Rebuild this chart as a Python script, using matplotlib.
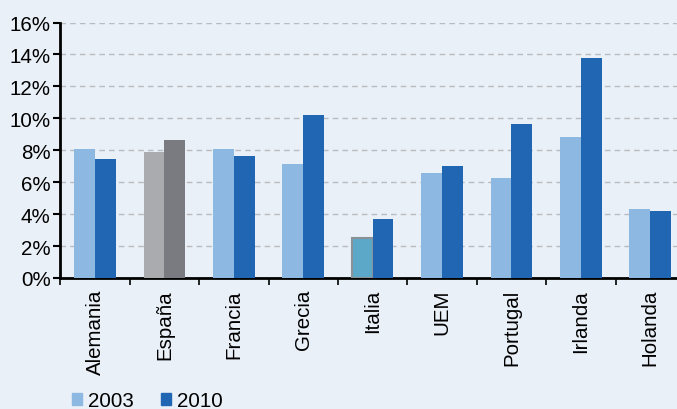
import matplotlib
matplotlib.use("Agg")
import matplotlib.pyplot as plt
import numpy as np
from matplotlib.patches import Patch

categories = ["Alemania", "España", "Francia", "Grecia", "Italia", "UEM", "Portugal", "Irlanda", "Holanda"]
v2003 = [8.08, 7.89, 8.08, 7.14, 2.49, 6.58, 6.26, 8.83, 4.32]
v2010 = [7.45, 8.64, 7.64, 10.21, 3.69, 7.01, 9.64, 13.78, 4.20]
yticks = [0, 2, 4, 6, 8, 10, 12, 14, 16]
series_labels = ["2003", "2010"]

plt.rcParams['font.family'] = ['Liberation Sans', 'DejaVu Sans']
bg = "#EAF0F7"
c03 = "#8DB8E2"
c10 = "#2166B3"

fig = plt.figure(figsize=(6.77, 4.10), dpi=100, facecolor=bg)
ax = fig.add_axes([60.3/677, 1-279/410, (685-60.3)/677, (279-23.5)/410], facecolor=bg)

x = np.arange(len(categories))
w = 0.30
cols03 = [c03]*len(categories)
cols10 = [c10]*len(categories)
edge03 = ["none"]*len(categories)
cols03[1] = "#A9ABAE"; cols10[1] = "#7A7B80"
cols03[4] = "#5BA8C8"; edge03[4] = "#8A9299"
for i in range(len(categories)):
    ax.bar(x[i]-w/2, v2003[i], w, color=cols03[i], edgecolor=edge03[i],
           linewidth=1.5 if edge03[i] != "none" else 0, zorder=3)
    ax.bar(x[i]+w/2, v2010[i], w, color=cols10[i], linewidth=0, zorder=3)

ax.set_xlim(-0.5, len(categories)-0.5)
ax.set_ylim(0, 16)
ax.set_yticks(yticks)
ax.set_yticklabels([f"{t}%" for t in yticks], fontsize=14.8)
ax.yaxis.grid(True, linestyle=(0, (4, 3)), color="#B8BCC0", linewidth=1, zorder=0)
ax.set_axisbelow(True)

ax.set_xticks(np.arange(-0.5, len(categories), 1.0))
ax.set_xticklabels([])
ax.set_xticks(x, minor=True)
ax.set_xticklabels(categories, minor=True, rotation=90, fontsize=14.8)
ax.tick_params(axis='x', which='minor', length=0, pad=8)
ax.tick_params(axis='x', which='major', length=5, width=1.2, color='black')
ax.tick_params(axis='y', length=5, width=1.5, color='black', pad=2)

for s in ["top", "right"]:
    ax.spines[s].set_visible(False)
ax.spines["left"].set_linewidth(2)
ax.spines["bottom"].set_linewidth(2)

handles = [Patch(color=c03, label=series_labels[0]), Patch(color=c10, label=series_labels[1])]
fig.legend(handles=handles, loc="center left", bbox_to_anchor=(72/677, 1-402/410), ncol=2,
           frameon=False, fontsize=14.8, handlelength=0.5, handleheight=0.5,
           handletextpad=0.3, columnspacing=1.3, borderpad=0, borderaxespad=0)

fig.savefig("out.png", dpi=100, facecolor=bg)
